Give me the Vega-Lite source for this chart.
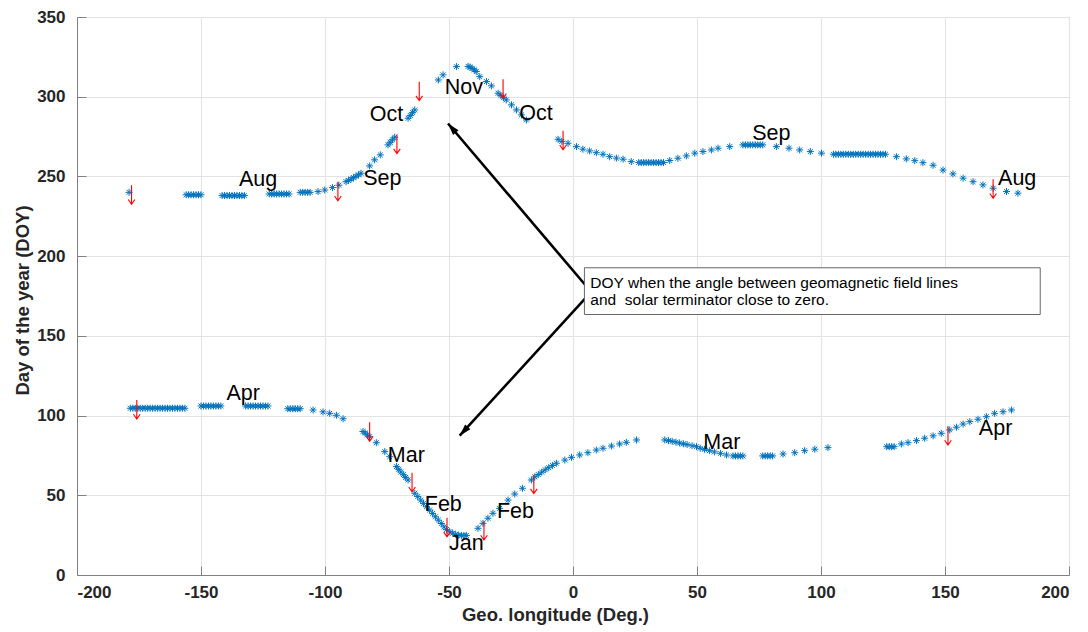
{
  "$schema": "https://vega.github.io/schema/vega-lite/v6.json",
  "width": 992,
  "height": 558,
  "autosize": "none",
  "padding": {"left": 77, "top": 17, "right": 19, "bottom": 57},
  "background": "white",
  "config": {
    "font": "Liberation Sans",
    "view": {"stroke": "#808080", "strokeWidth": 1},
    "axis": {
      "domainColor": "#808080",
      "tickColor": "#808080",
      "gridColor": "#E3E3E3",
      "labelColor": "#262626",
      "titleColor": "#262626",
      "labelFont": "Liberation Sans",
      "titleFont": "Liberation Sans",
      "labelFontWeight": "bold",
      "titleFontWeight": "bold",
      "labelFontSize": 17,
      "titleFontSize": 18.5
    }
  },
  "datasets": {
    "pts": [
      {"lon": -179, "doy": 240},
      {"lon": -156, "doy": 238.5}, {"lon": -155, "doy": 238.5}, {"lon": -154, "doy": 238.5}, {"lon": -153, "doy": 238.5}, {"lon": -152, "doy": 238.5}, {"lon": -151, "doy": 238.5}, {"lon": -150, "doy": 238.5},
      {"lon": -141.5, "doy": 238}, {"lon": -140.5, "doy": 238}, {"lon": -139.5, "doy": 238}, {"lon": -138.5, "doy": 238}, {"lon": -137.5, "doy": 238}, {"lon": -136.5, "doy": 238}, {"lon": -135.5, "doy": 238}, {"lon": -134.5, "doy": 238}, {"lon": -133.5, "doy": 238}, {"lon": -132.5, "doy": 238},
      {"lon": -122.5, "doy": 239}, {"lon": -121.5, "doy": 239}, {"lon": -120.5, "doy": 239}, {"lon": -119.5, "doy": 239}, {"lon": -118.5, "doy": 239}, {"lon": -117.5, "doy": 239}, {"lon": -116.5, "doy": 239}, {"lon": -115.5, "doy": 239}, {"lon": -114.5, "doy": 239},
      {"lon": -110, "doy": 240}, {"lon": -109, "doy": 240}, {"lon": -108, "doy": 240}, {"lon": -107, "doy": 240}, {"lon": -106, "doy": 240},
      {"lon": -102.8, "doy": 240.5}, {"lon": -100.1, "doy": 241.5}, {"lon": -97, "doy": 243}, {"lon": -94.4, "doy": 244.5},
      {"lon": -91.5, "doy": 246.7}, {"lon": -90.5, "doy": 247.5}, {"lon": -89.5, "doy": 248.3}, {"lon": -88.5, "doy": 249.2}, {"lon": -87.5, "doy": 250.1}, {"lon": -86.5, "doy": 251}, {"lon": -85.5, "doy": 252},
      {"lon": -82, "doy": 256.6}, {"lon": -80, "doy": 260.4}, {"lon": -77.7, "doy": 263.5},
      {"lon": -74.6, "doy": 269.8}, {"lon": -73.7, "doy": 271.4}, {"lon": -72.8, "doy": 273}, {"lon": -71.9, "doy": 274.6},
      {"lon": -66.5, "doy": 286.5}, {"lon": -65.6, "doy": 288.2}, {"lon": -64.7, "doy": 290}, {"lon": -63.8, "doy": 291.7},
      {"lon": -54.3, "doy": 310.5}, {"lon": -52.4, "doy": 313.7},
      {"lon": -47, "doy": 318.9},
      {"lon": -42.3, "doy": 319}, {"lon": -41.5, "doy": 318.6}, {"lon": -40.7, "doy": 317.8}, {"lon": -39.8, "doy": 316.8}, {"lon": -39, "doy": 315.8},
      {"lon": -37.6, "doy": 312.6}, {"lon": -34.9, "doy": 309.5}, {"lon": -32.9, "doy": 306.8},
      {"lon": -30.2, "doy": 302.2}, {"lon": -29.1, "doy": 300.8}, {"lon": -28, "doy": 299.4}, {"lon": -26.9, "doy": 298},
      {"lon": -24.8, "doy": 294.9}, {"lon": -22.8, "doy": 291.7}, {"lon": -20.8, "doy": 288.6}, {"lon": -18.8, "doy": 285.4},
      {"lon": -6, "doy": 273.3}, {"lon": -4.5, "doy": 272}, {"lon": -2, "doy": 270.8},
      {"lon": 1.4, "doy": 268.7}, {"lon": 4, "doy": 267.1}, {"lon": 6.7, "doy": 266}, {"lon": 9.4, "doy": 264.9}, {"lon": 12.1, "doy": 263.9}, {"lon": 14.8, "doy": 262.4}, {"lon": 17.5, "doy": 261.5}, {"lon": 20.2, "doy": 260.8}, {"lon": 23.5, "doy": 259.3},
      {"lon": 26.5, "doy": 258.7}, {"lon": 27.5, "doy": 258.7}, {"lon": 28.5, "doy": 258.7}, {"lon": 29.5, "doy": 258.7}, {"lon": 30.5, "doy": 258.7}, {"lon": 31.5, "doy": 258.7}, {"lon": 32.5, "doy": 258.7}, {"lon": 33.5, "doy": 258.7}, {"lon": 34.5, "doy": 258.7}, {"lon": 35.5, "doy": 258.7}, {"lon": 36.5, "doy": 258.7},
      {"lon": 39, "doy": 260}, {"lon": 42.3, "doy": 261.4}, {"lon": 45.7, "doy": 262.9}, {"lon": 49.1, "doy": 264.6}, {"lon": 52.4, "doy": 265.6}, {"lon": 55.8, "doy": 266.6}, {"lon": 58.5, "doy": 267.7},
      {"lon": 63.2, "doy": 268.7},
      {"lon": 68.5, "doy": 269.8}, {"lon": 69.5, "doy": 269.8}, {"lon": 70.5, "doy": 269.8}, {"lon": 71.5, "doy": 269.8}, {"lon": 72.5, "doy": 269.8}, {"lon": 73.5, "doy": 269.8}, {"lon": 74.5, "doy": 269.8}, {"lon": 75.5, "doy": 269.8}, {"lon": 76.5, "doy": 269.8},
      {"lon": 82, "doy": 268.7},
      {"lon": 87.1, "doy": 267.7}, {"lon": 91.4, "doy": 266.6}, {"lon": 95.7, "doy": 265.6}, {"lon": 100.2, "doy": 264.6},
      {"lon": 105, "doy": 263.9}, {"lon": 106, "doy": 263.9}, {"lon": 107, "doy": 263.9}, {"lon": 108, "doy": 263.9}, {"lon": 109, "doy": 263.9}, {"lon": 110, "doy": 263.9}, {"lon": 111, "doy": 263.9}, {"lon": 112, "doy": 263.9}, {"lon": 113, "doy": 263.9}, {"lon": 114, "doy": 263.9}, {"lon": 115, "doy": 263.9}, {"lon": 116, "doy": 263.9}, {"lon": 117, "doy": 263.9}, {"lon": 118, "doy": 263.9}, {"lon": 119, "doy": 263.9}, {"lon": 120, "doy": 263.9}, {"lon": 121, "doy": 263.9}, {"lon": 122, "doy": 263.9}, {"lon": 123, "doy": 263.9}, {"lon": 124, "doy": 263.9}, {"lon": 125, "doy": 263.9}, {"lon": 126, "doy": 263.9},
      {"lon": 130.4, "doy": 262.4}, {"lon": 134.4, "doy": 261}, {"lon": 137.8, "doy": 259.9}, {"lon": 141.1, "doy": 258.6}, {"lon": 145.2, "doy": 257}, {"lon": 149.2, "doy": 254}, {"lon": 153.2, "doy": 251.6}, {"lon": 157.3, "doy": 248.9}, {"lon": 161.3, "doy": 246.7}, {"lon": 165.3, "doy": 244.7}, {"lon": 169.4, "doy": 242.6}, {"lon": 174.8, "doy": 240.5}, {"lon": 179.4, "doy": 239.5},
      {"lon": -178.5, "doy": 104.6}, {"lon": -177.5, "doy": 104.6}, {"lon": -176.5, "doy": 104.6}, {"lon": -175.5, "doy": 104.6}, {"lon": -174.5, "doy": 104.6}, {"lon": -173.5, "doy": 104.6}, {"lon": -172.5, "doy": 104.6}, {"lon": -171.5, "doy": 104.6}, {"lon": -170.5, "doy": 104.6}, {"lon": -169.5, "doy": 104.6}, {"lon": -168.5, "doy": 104.6}, {"lon": -167.5, "doy": 104.6}, {"lon": -166.5, "doy": 104.6}, {"lon": -165.5, "doy": 104.6}, {"lon": -164.5, "doy": 104.6}, {"lon": -163.5, "doy": 104.6}, {"lon": -162.5, "doy": 104.6}, {"lon": -161.5, "doy": 104.6}, {"lon": -160.5, "doy": 104.6}, {"lon": -159.5, "doy": 104.6}, {"lon": -158.5, "doy": 104.6}, {"lon": -157.5, "doy": 104.6}, {"lon": -156.5, "doy": 104.6},
      {"lon": -150, "doy": 106}, {"lon": -149, "doy": 106}, {"lon": -148, "doy": 106}, {"lon": -147, "doy": 106}, {"lon": -146, "doy": 106}, {"lon": -145, "doy": 106}, {"lon": -144, "doy": 106}, {"lon": -143, "doy": 106}, {"lon": -142, "doy": 106},
      {"lon": -132, "doy": 106}, {"lon": -131, "doy": 106}, {"lon": -130, "doy": 106}, {"lon": -129, "doy": 106}, {"lon": -128, "doy": 106}, {"lon": -127, "doy": 106}, {"lon": -126, "doy": 106}, {"lon": -125, "doy": 106}, {"lon": -124, "doy": 106}, {"lon": -123, "doy": 106},
      {"lon": -115, "doy": 104.3}, {"lon": -114, "doy": 104.3}, {"lon": -113, "doy": 104.3}, {"lon": -112, "doy": 104.3}, {"lon": -111, "doy": 104.3}, {"lon": -110, "doy": 104.3},
      {"lon": -104.8, "doy": 103.5}, {"lon": -100.8, "doy": 102.3}, {"lon": -98.1, "doy": 101.4}, {"lon": -95.4, "doy": 100.2}, {"lon": -92.7, "doy": 98},
      {"lon": -84.7, "doy": 90}, {"lon": -83.8, "doy": 89}, {"lon": -82.9, "doy": 87.9}, {"lon": -82, "doy": 86.8},
      {"lon": -79.3, "doy": 83},
      {"lon": -75.9, "doy": 77.4}, {"lon": -73.9, "doy": 74.2},
      {"lon": -71.2, "doy": 68}, {"lon": -70.3, "doy": 66.3}, {"lon": -69.4, "doy": 64.6}, {"lon": -68.4, "doy": 62.9}, {"lon": -67.5, "doy": 61.2}, {"lon": -66.5, "doy": 59.6},
      {"lon": -63.8, "doy": 51.3}, {"lon": -62.6, "doy": 49.2}, {"lon": -61.4, "doy": 47}, {"lon": -60.3, "doy": 44.9}, {"lon": -59.1, "doy": 42.8},
      {"lon": -57.8, "doy": 40.8}, {"lon": -56.6, "doy": 38.6}, {"lon": -55.5, "doy": 36.5}, {"lon": -54.3, "doy": 34.4}, {"lon": -53.1, "doy": 32.3}, {"lon": -52, "doy": 30.2}, {"lon": -51, "doy": 28.5},
      {"lon": -49.7, "doy": 27.2}, {"lon": -48.5, "doy": 26.2}, {"lon": -47.3, "doy": 25.5}, {"lon": -46.1, "doy": 25}, {"lon": -45, "doy": 24.8}, {"lon": -44, "doy": 24.8}, {"lon": -43, "doy": 24.8},
      {"lon": -38.3, "doy": 29.3}, {"lon": -36.3, "doy": 32.4}, {"lon": -34.3, "doy": 35.6}, {"lon": -32.3, "doy": 38.7},
      {"lon": -29.6, "doy": 41.8}, {"lon": -26.2, "doy": 47}, {"lon": -23.5, "doy": 50.8}, {"lon": -20.4, "doy": 54.4},
      {"lon": -16.8, "doy": 59.6}, {"lon": -15.4, "doy": 61.5}, {"lon": -14, "doy": 63}, {"lon": -12.6, "doy": 64.5}, {"lon": -11.2, "doy": 66}, {"lon": -9.8, "doy": 67.3}, {"lon": -8.3, "doy": 68.7}, {"lon": -6.7, "doy": 70.1},
      {"lon": -3.3, "doy": 72.1}, {"lon": -0.6, "doy": 73.8}, {"lon": 2.7, "doy": 75.3}, {"lon": 6, "doy": 76.7}, {"lon": 9.4, "doy": 78.4},
      {"lon": 12.1, "doy": 79.5}, {"lon": 15.5, "doy": 80.9}, {"lon": 18.8, "doy": 82.2}, {"lon": 21.5, "doy": 83.2}, {"lon": 25.6, "doy": 84.7},
      {"lon": 37, "doy": 84.7}, {"lon": 38.5, "doy": 84.3}, {"lon": 40, "doy": 83.8}, {"lon": 41.5, "doy": 83.3}, {"lon": 43, "doy": 82.8}, {"lon": 44.5, "doy": 82.3}, {"lon": 46, "doy": 81.8}, {"lon": 48, "doy": 81.1}, {"lon": 49.8, "doy": 80.5},
      {"lon": 51.3, "doy": 79.5}, {"lon": 53, "doy": 78.8}, {"lon": 55, "doy": 78}, {"lon": 57, "doy": 77.2}, {"lon": 59.5, "doy": 76.3}, {"lon": 61.9, "doy": 75.3},
      {"lon": 64.5, "doy": 74.7}, {"lon": 65.5, "doy": 74.7}, {"lon": 66.5, "doy": 74.7}, {"lon": 67.5, "doy": 74.7}, {"lon": 68.5, "doy": 74.7},
      {"lon": 76.5, "doy": 74.7}, {"lon": 77.5, "doy": 74.7}, {"lon": 78.5, "doy": 74.7}, {"lon": 79.5, "doy": 74.7}, {"lon": 80.5, "doy": 74.7},
      {"lon": 84.7, "doy": 75.9}, {"lon": 89.4, "doy": 76.7}, {"lon": 93.4, "doy": 78}, {"lon": 97.5, "doy": 78.9}, {"lon": 102.8, "doy": 79.9},
      {"lon": 126.5, "doy": 80.5}, {"lon": 127.5, "doy": 80.5}, {"lon": 128.5, "doy": 80.5}, {"lon": 129.5, "doy": 80.5},
      {"lon": 132.4, "doy": 82.2}, {"lon": 135.1, "doy": 83}, {"lon": 138.5, "doy": 84.3}, {"lon": 141.8, "doy": 85.8}, {"lon": 145.2, "doy": 87.3}, {"lon": 148.5, "doy": 88.9}, {"lon": 151.9, "doy": 91}, {"lon": 154.6, "doy": 92.7}, {"lon": 157.3, "doy": 94.7}, {"lon": 160, "doy": 96.2}, {"lon": 163.3, "doy": 97.7}, {"lon": 166.7, "doy": 99.3}, {"lon": 170, "doy": 101.4}, {"lon": 173.4, "doy": 102.4}, {"lon": 176.8, "doy": 103.5}
    ],
    "marks": [
      {"lon": -178, "doy": 238.5}, {"lon": -94.8, "doy": 240.7}, {"lon": -71, "doy": 270.3}, {"lon": -62, "doy": 303.5}, {"lon": -28.2, "doy": 305}, {"lon": -4, "doy": 272.7}, {"lon": 169.4, "doy": 242.3},
      {"lon": -175.9, "doy": 103.8}, {"lon": -82, "doy": 89.9}, {"lon": -64.9, "doy": 58.2}, {"lon": -50.8, "doy": 29.9}, {"lon": -35.9, "doy": 27.9}, {"lon": -15.8, "doy": 57}, {"lon": 151.2, "doy": 87.5}
    ],
    "months": [
      {"lon": -127, "doy": 244.3, "label": "Aug"},
      {"lon": -76.9, "doy": 244.9, "label": "Sep"},
      {"lon": -75.2, "doy": 285, "label": "Oct"},
      {"lon": -44, "doy": 301.8, "label": "Nov"},
      {"lon": -14.9, "doy": 285.7, "label": "Oct"},
      {"lon": 80, "doy": 272.7, "label": "Sep"},
      {"lon": 179.1, "doy": 244.9, "label": "Aug"},
      {"lon": -133, "doy": 109.6, "label": "Apr"},
      {"lon": -67.2, "doy": 70.9, "label": "Mar"},
      {"lon": -52.3, "doy": 40.1, "label": "Feb"},
      {"lon": -43, "doy": 15.9, "label": "Jan"},
      {"lon": -23.2, "doy": 35.8, "label": "Feb"},
      {"lon": 60, "doy": 79.2, "label": "Mar"},
      {"lon": 170.4, "doy": 88, "label": "Apr"}
    ],
    "box": [{"lon": 4.6, "lon2": 188.4, "doy": 192.7, "doy2": 163.4}],
    "note": [
      {"lon": 7, "doy": 180.1, "label": "DOY when the angle between geomagnetic field lines"},
      {"lon": 7, "doy": 169.6, "label": "and\u00a0 solar terminator close to zero."}
    ],
    "pointers": [
      {"lon": 5.4, "doy": 181.1, "lon2": -50.4, "doy2": 283.2},
      {"lon": 6.7, "doy": 176.5, "lon2": -45.7, "doy2": 87.4}
    ],
    "headUp": [{"lon": -50.4, "doy": 283.2}],
    "headDown": [{"lon": -45.7, "doy": 87.4}]
  },
  "encoding": {
    "x": {"field": "lon", "type": "quantitative", "scale": {"domain": [-200, 200], "nice": false, "zero": false},
      "axis": {"title": "Geo. longitude (Deg.)", "values": [-200, -150, -100, -50, 0, 50, 100, 150, 200], "labelExpr": "'' + datum.value", "grid": true, "tickSize": -9, "labelPadding": 18, "titleX": 478, "titleY": 39, "titleBaseline": "middle", "titleAnchor": null, "titleAlign": "center"}},
    "y": {"field": "doy", "type": "quantitative", "scale": {"domain": [0, 350], "nice": false, "zero": false},
      "axis": {"title": "Day of the year (DOY)", "values": [0, 50, 100, 150, 200, 250, 300, 350], "labelExpr": "'' + datum.value", "grid": true, "tickSize": -9, "labelPadding": 21, "titleX": -55, "titleY": 283, "titleAngle": -90, "titleBaseline": "middle", "titleAlign": "center", "titleAnchor": null}}
  },
  "layer": [
    {
      "data": {"name": "pts"},
      "mark": {"type": "point", "shape": "M0,-1L0,1M-1,0L1,0M-0.7,-0.7L0.7,0.7M-0.7,0.7L0.7,-0.7", "filled": false, "stroke": "#0072BD", "strokeWidth": 1, "size": 49, "opacity": 1}
    },
    {
      "data": {"name": "marks"},
      "mark": {"type": "point", "shape": "M0,-1L0,1M-0.35,0.5L0,1L0.35,0.5", "filled": false, "stroke": "#FF0000", "strokeWidth": 1.1, "size": 361, "opacity": 1}
    },
    {
      "data": {"name": "months"},
      "mark": {"type": "text", "font": "Liberation Sans", "fontSize": 21.5, "color": "#000000", "align": "center", "baseline": "alphabetic"},
      "encoding": {"text": {"field": "label"}}
    },
    {
      "data": {"name": "pointers"},
      "mark": {"type": "rule", "color": "#000000", "strokeWidth": 2.6},
      "encoding": {"x2": {"field": "lon2"}, "y2": {"field": "doy2"}}
    },
    {
      "data": {"name": "headUp"},
      "mark": {"type": "point", "shape": "M0,0L-0.6,2L0.6,2Z", "filled": true, "color": "#000000", "size": 144, "angle": 319.6, "opacity": 1}
    },
    {
      "data": {"name": "headDown"},
      "mark": {"type": "point", "shape": "M0,0L-0.6,2L0.6,2Z", "filled": true, "color": "#000000", "size": 144, "angle": 222.5, "opacity": 1}
    },
    {
      "data": {"name": "box"},
      "mark": {"type": "rect", "fill": "#FFFFFF", "stroke": "#666666", "strokeWidth": 1},
      "encoding": {"x2": {"field": "lon2"}, "y2": {"field": "doy2"}}
    },
    {
      "data": {"name": "note"},
      "mark": {"type": "text", "font": "Liberation Sans", "fontSize": 15.5, "color": "#000000", "align": "left", "baseline": "alphabetic"},
      "encoding": {"text": {"field": "label"}}
    }
  ]
}
